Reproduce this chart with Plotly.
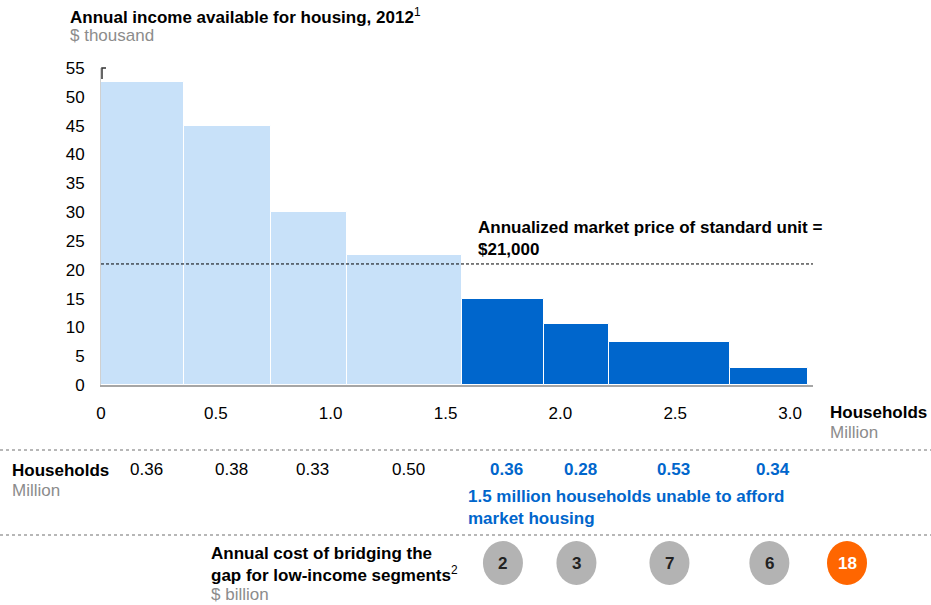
import numpy as np
import plotly.graph_objects as go

# ---- data ----
households = [0.36, 0.38, 0.33, 0.50, 0.36, 0.28, 0.53, 0.34]   # million
income = [52.5, 45.0, 30.0, 22.5, 15.0, 10.5, 7.5, 3.0]          # $ thousand
unaffordable = [False, False, False, False, True, True, True, True]
cost_values = [2, 3, 7, 6]      # $ billion, for low-income segments
cost_total = 18
market_price = 21               # $ thousand
x_ticks = [0, 0.5, 1.0, 1.5, 2.0, 2.5, 3.0]
x_tick_labels = ["0", "0.5", "1.0", "1.5", "2.0", "2.5", "3.0"]
y_ticks = [0, 5, 10, 15, 20, 25, 30, 35, 40, 45, 50, 55]

LIGHT = "#C8E1F9"
DARK = "#0066CC"
GREY = "#8C8C8C"
FONT = "Arial, Liberation Sans, sans-serif"
FS = 17

edges = np.concatenate([[0], np.cumsum(households)])
centers = (edges[:-1] + edges[1:]) / 2
colors = [DARK if u else LIGHT for u in unaffordable]

# plot area in pixels
L, R, T, B = 101, 813, 68, 385
W_FIG, H_FIG = 931, 605


def px(x):
    return (x - L) / (R - L)


def py(y):
    return (B - y) / (B - T)


fig = go.Figure()
fig.add_trace(go.Bar(
    x=centers, y=income, width=households,
    marker=dict(color=colors, line=dict(color="white", width=1)),
    hoverinfo="skip", showlegend=False,
))

shapes = []
# market price line
shapes.append(dict(type="line", xref="x", yref="y", x0=0, x1=3.1,
                   y0=market_price, y1=market_price,
                   line=dict(color="black", width=1, dash="3px,2px")))
# top tick corner on y axis
shapes.append(dict(type="path", xref="paper", yref="paper",
                   path=f"M {px(102)} {py(79)} L {px(102)} {py(68)} L {px(106)} {py(68)}",
                   line=dict(color="#333333", width=1.5)))
# dotted separators
for yy in [450, 535]:
    shapes.append(dict(type="line", xref="paper", yref="paper",
                       x0=px(0), x1=px(931), y0=py(yy), y1=py(yy),
                       line=dict(color="#A0A0A0", width=1.5, dash="dot")))
# cost circles for segments (positioned at the bar centres)
for cx in centers[4:]:
    shapes.append(dict(type="circle", xref="x", yref="paper",
                       xsizemode="pixel", ysizemode="pixel",
                       xanchor=cx, yanchor=py(563),
                       x0=-20, x1=20, y0=-22, y1=22,
                       fillcolor="#B3B3B3", line=dict(width=0)))
# total circle
shapes.append(dict(type="circle", xref="paper", yref="paper",
                   xsizemode="pixel", ysizemode="pixel",
                   xanchor=px(847), yanchor=py(563),
                   x0=-20, x1=20, y0=-22, y1=22,
                   fillcolor="#FF6600", line=dict(width=0)))

ann = []


def text(x, y, t, size=FS, color="black", xanchor="left", xref="paper", xshift=0):
    ann.append(dict(x=x, y=y, xref=xref, yref="paper", text=t, showarrow=False,
                    xanchor=xanchor, yanchor="middle", align="left", xshift=xshift,
                    font=dict(family=FONT, size=size, color=color)))


text(px(68), py(16), "<b>Annual income available for housing, 2012</b><sup>1</sup>")
text(px(68), py(36), "$ thousand", color=GREY)
text(px(476), py(238), "<b>Annualized market price of standard unit =</b><br><b>$21,000</b>")
text(px(828), py(412), "<b>Households</b>")
text(px(828), py(432), "Million", color=GREY)

text(px(10), py(470), "<b>Households</b>")
text(px(10), py(490), "Million", color=GREY)
for c, h, u in zip(centers, households, unaffordable):
    t = f"<b>{h:.2f}</b>" if u else f"{h:.2f}"
    text(c, py(469), t, color=DARK if u else "black", xanchor="center", xref="x", xshift=4)
text(px(466), py(507), "<b>1.5 million households unable to afford</b><br><b>market housing</b>",
     color=DARK)

text(px(209), py(564), "<b>Annual cost of bridging the</b><br><b>gap for low-income segments</b><sup>2</sup>")
text(px(209), py(594), "$ billion", color=GREY)
for cx, v in zip(centers[4:], cost_values):
    text(cx, py(563), f"<b>{v}</b>", color="#222222", xanchor="center", xref="x")
text(px(847), py(563), f"<b>{cost_total}</b>", color="white", xanchor="center")

fig.update_layout(
    width=W_FIG, height=H_FIG,
    margin=dict(l=L, r=W_FIG - R, t=T, b=H_FIG - B, pad=0),
    paper_bgcolor="white", plot_bgcolor="white",
    font=dict(family=FONT, size=FS, color="black"),
    bargap=0,
    shapes=shapes, annotations=ann,
    xaxis=dict(range=[0, 3.1], tickvals=x_ticks, ticktext=x_tick_labels,
               showgrid=False, zeroline=False, showline=True,
               linecolor="#A6A6A6", linewidth=1.5,
               ticks="outside", ticklen=12, tickcolor="rgba(0,0,0,0)",
               tickfont=dict(size=FS, color="black")),
    yaxis=dict(range=[0, 55], tickvals=y_ticks, showgrid=False, zeroline=False,
               showline=True, linecolor="#D0D0D0", linewidth=1,
               ticks="outside", ticklen=12, tickcolor="rgba(0,0,0,0)",
               tickfont=dict(size=FS, color="black")),
)

fig.write_html("out.html", config={"displayModeBar": False},
               post_script="document.body.style.margin='0px';")
